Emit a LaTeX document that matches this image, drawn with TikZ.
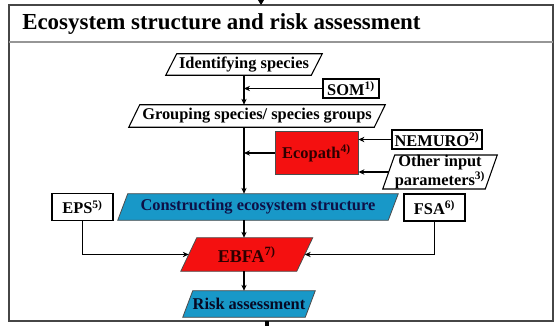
\documentclass[tikz,border=0pt]{standalone}
\usepackage{fontspec}
\setmainfont{Liberation Serif}
\usetikzlibrary{arrows.meta,calc,backgrounds}

\definecolor{boxred}{RGB}{244,16,16}
\definecolor{boxblue}{RGB}{24,152,200}
\definecolor{navytext}{RGB}{14,16,70}
\definecolor{darkred}{RGB}{45,0,0}
\definecolor{framegray}{RGB}{70,70,70}
\definecolor{rulegray}{RGB}{150,150,150}

\tikzset{
  lbl/.style={inner sep=0pt, font=\bfseries\fontsize{12.3}{13.5}\selectfont},
  plainbox/.style={lbl, draw=black, line width=0.8pt},
  slantlbl/.style={lbl},
  redbox/.style={lbl, draw=black!70, line width=0.6pt, fill=boxred, text=darkred},
  arr/.style={line width=0.8pt, -{Stealth[length=4.5pt,width=4pt]}},
}

% parallelogram behind a named label node: #1 node, #2 slant, #3 draw options
\newcommand\slantshape[3]{%
  \draw[#3] ($(#1.south west)+(-#2,0)$) -- ($(#1.north west)+(#2,0)$)
    -- ($(#1.north east)+(#2,0)$) -- ($(#1.south east)+(-#2,0)$) -- cycle;}

\begin{document}
\begin{tikzpicture}[x=0.75pt,y=-0.75pt]
\useasboundingbox (0,0) rectangle (559,325);

% outer frame and heading
\draw[framegray, line width=1.4pt] (9,5) rectangle (553,321);
\draw[rulegray, line width=0.8pt] (9,42) -- (553,42);
\node[anchor=west, inner sep=0pt, font=\bfseries\fontsize{17.2}{20}\selectfont] (title) at (22,24) {Ecosystem structure and risk assessment};

% flow arrows entering and leaving the frame
\coordinate (inflow) at (261,-2);
\coordinate (frametop) at (261,5);
\draw[line width=0.8pt, -{Stealth[length=5pt,width=6pt]}] (inflow) -- (frametop);
\coordinate (framebot) at (267,321);
\coordinate (outflow) at (267,326);
\draw[line width=2.6pt] (framebot) -- (outflow);

% main spine
\coordinate (spine) at (244,0);

% labels
\node[slantlbl, minimum width=108.75pt, minimum height=15.75pt] (ident) at (244,64.5) {Identifying species};
\node[plainbox, minimum width=42pt, minimum height=14.25pt] (som) at (351,88.5) {SOM\textsuperscript{1)}};
\node[slantlbl, minimum width=183.75pt, minimum height=16.5pt] (group) at (257,116) {Grouping species/ species groups};
\node[redbox, minimum width=62.25pt, minimum height=32.25pt] (eco) at (316.5,153) {Ecopath\textsuperscript{4)}};
\node[plainbox, minimum width=67.5pt, minimum height=14.25pt] (nem) at (437,139.5) {NEMURO\textsuperscript{2)}};
\node[slantlbl, align=center, minimum width=76.5pt, minimum height=24pt, font=\bfseries\fontsize{12.3}{12.5}\selectfont] (other) at (440,172) {Other input\\parameters\textsuperscript{3)}};
\node[plainbox, minimum width=45.75pt, minimum height=20.25pt] (eps) at (82.5,207) {EPS\textsuperscript{5)}};
\node[slantlbl, minimum width=202.5pt, minimum height=19.5pt, text=navytext] (constr) at (258,207) {Constructing ecosystem structure};
\node[plainbox, minimum width=45.75pt, minimum height=20.25pt] (fsa) at (434.5,207.5) {FSA\textsuperscript{6)}};
\node[slantlbl, minimum width=86.6pt, minimum height=24.75pt, text=darkred, font=\bfseries\fontsize{13.5}{15}\selectfont] (ebfa) at (246.75,254.5) {EBFA\textsuperscript{7)}};
\node[slantlbl, minimum width=91.5pt, minimum height=19.5pt, text=navytext!50!black] (risk) at (249,304) {Risk assessment};

% parallelogram outlines and fills
\begin{scope}[on background layer]
  \slantshape{ident}{5.5}{draw=black, line width=0.8pt, fill=white}
  \slantshape{group}{5.5}{draw=black, line width=0.8pt, fill=white}
  \slantshape{other}{6}{draw=black, line width=0.8pt, fill=white}
  \slantshape{constr}{5}{draw=black!70, line width=0.6pt, fill=boxblue}
  \slantshape{ebfa}{8}{draw=black!70, line width=0.6pt, fill=boxred}
  \slantshape{risk}{5}{draw=black!70, line width=0.6pt, fill=boxblue}
\end{scope}

% connectors along the spine
\draw[arr] (ident.south -| spine) -- (group.north -| spine);
\draw[arr] (som.west) -- (som.west -| spine);
\draw[arr] (group.south -| spine) -- (constr.north -| spine);
\draw[arr] (eco.west) -- (eco.west -| spine);
\draw[arr] (nem.west) -- (nem.west -| eco.east);
\draw[arr] (other.west) -- (other.west -| eco.east);
\draw[arr] (constr.south -| spine) -- (ebfa.north -| spine);
\draw[arr] (ebfa.south -| spine) -- (risk.north -| spine);

% side inputs into EBFA
\draw[arr] (eps.south) |- (ebfa.west);
\draw[arr] (fsa.south) |- (ebfa.east);
\end{tikzpicture}
\end{document}
